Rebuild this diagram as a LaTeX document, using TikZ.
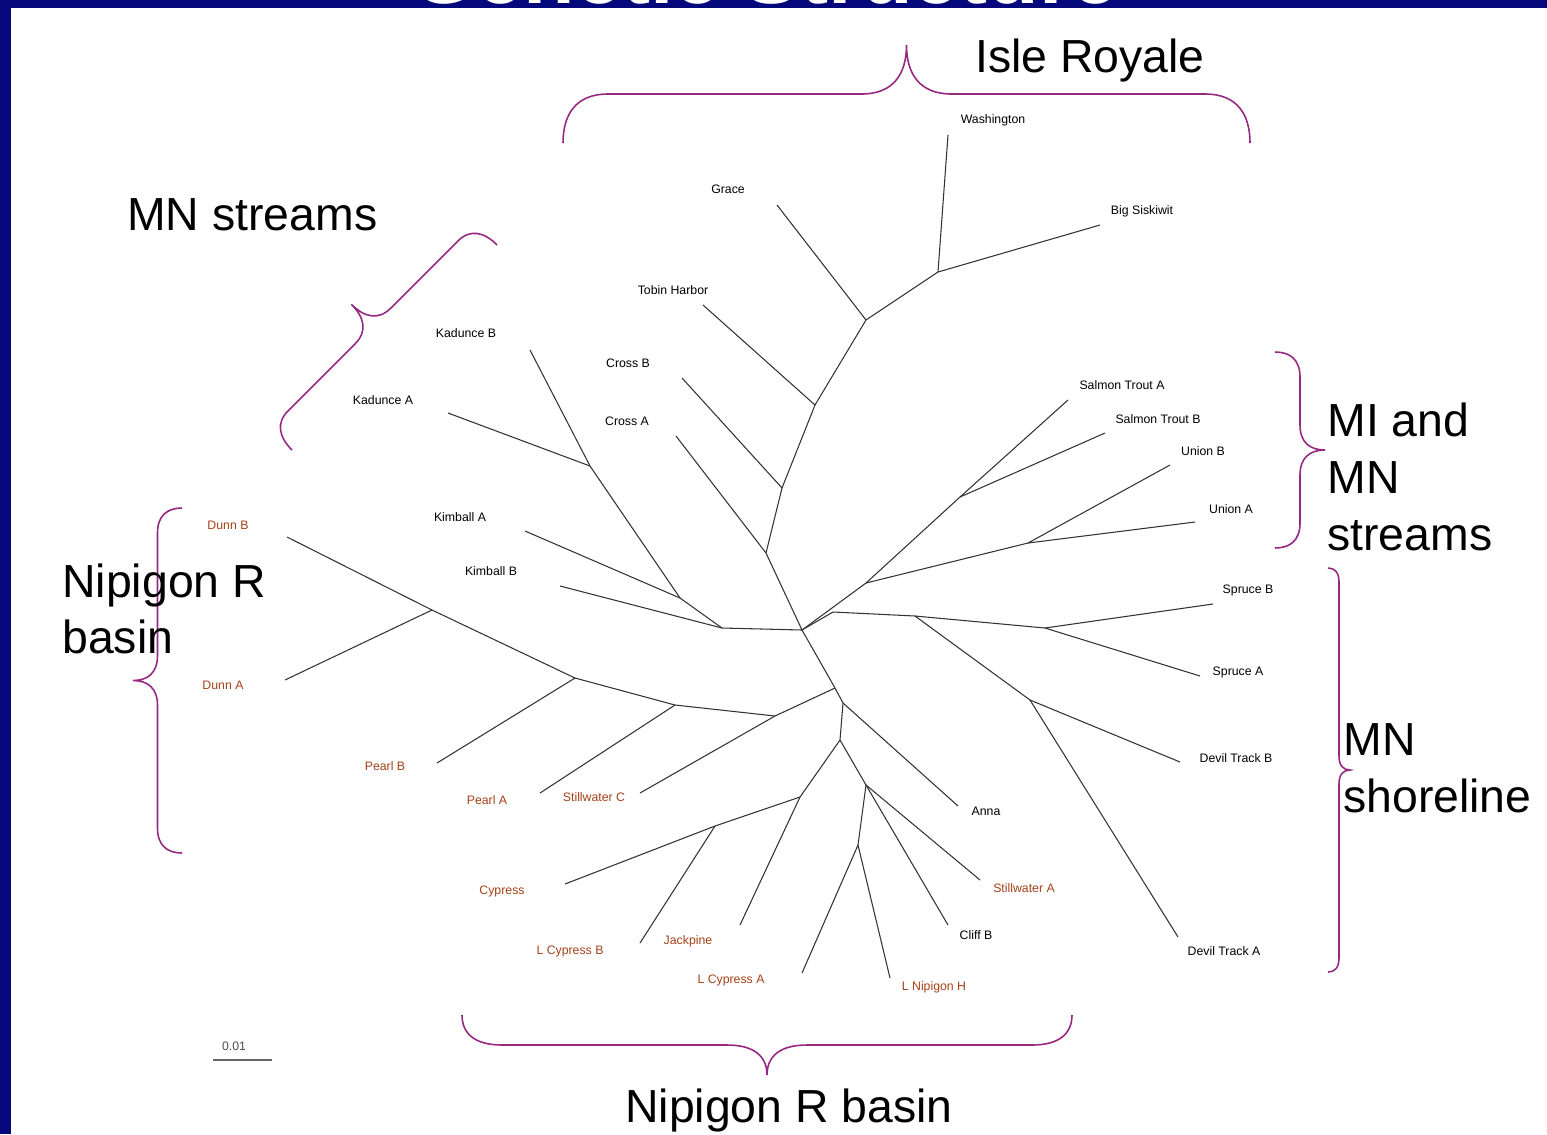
\documentclass[tikz,border=0pt]{standalone}
\usepackage{fontspec}
\setmainfont{Liberation Sans}
\definecolor{navy}{RGB}{4,8,122}
\definecolor{brownlab}{RGB}{165,65,25}
\definecolor{bracecol}{RGB}{150,40,130}
\tikzset{
  pics/cbrace/.style n args={3}{code={%
    \draw[draw=bracecol, line width=0.9pt]
      (0,0) .. controls (0,{-0.3*#2}) and ({0.3*#3},{-0.5*#2}) .. (#3,{-0.5*#2})
      -- ({0.5*#1-#3},{-0.5*#2})
      .. controls ({0.5*#1-0.3*#3},{-0.5*#2}) and ({0.5*#1},{-0.7*#2}) .. ({0.5*#1},{-#2})
      .. controls ({0.5*#1},{-0.7*#2}) and ({0.5*#1+0.3*#3},{-0.5*#2}) .. ({0.5*#1+#3},{-0.5*#2})
      -- ({#1-#3},{-0.5*#2})
      .. controls ({#1-0.3*#3},{-0.5*#2}) and (#1,{-0.3*#2}) .. (#1,0);
  }}
}
\begin{document}
\begin{tikzpicture}[x={(0.02cm,0)}, y={(0,-0.02cm)},
  edge/.style={black!80, line width=0.6pt},
  lab/.style={font=\fontsize{7}{8}\selectfont, inner sep=0pt},
  blab/.style={lab, text=brownlab},
  big/.style={font=\fontsize{26.4}{32.3}\selectfont, inner sep=0pt, align=left}]
\path[use as bounding box, fill=white] (0,0) rectangle (1547,1134);
\fill[navy] (0,0) rectangle (11,1134);
\fill[navy] (0,0) rectangle (1547,8);
\begin{scope}
\clip (0,0) rectangle (1547,8);
\node[white, font=\bfseries\fontsize{48}{50}\selectfont, anchor=base, inner sep=0pt] (title) at (765,3) {Genetic Structure};
\end{scope}

% braces
\pic at (563,143) {cbrace={687}{98}{45}};
\pic[rotate=180] at (1072,1015) {cbrace={610}{60}{40}};
\pic[rotate=-90] at (1275,352) {cbrace={196}{50}{25}};
\pic[rotate=-90] at (1328,568) {cbrace={404}{22}{14}};
\pic[rotate=90] at (182,853) {cbrace={345}{49}{25}};
\pic[rotate=45] at (292,450) {cbrace={290}{61}{25}};

% big labels
\node[big, anchor=base west] (tisle) at (975,72) {Isle Royale};
\node[big, anchor=base west] (tmn) at (127,230) {MN streams};
\node[big, anchor=west] (tmi) at (1327,477) {MI and\\MN\\streams};
\node[big, anchor=west] (tnipl) at (62,609) {Nipigon R\\basin};
\node[big, anchor=west] (tshore) at (1343,768) {MN\\shoreline};
\node[big, anchor=base] (tnipb) at (789,1122) {Nipigon R basin};

% leaf labels
\node[lab] (lwash) at (993,120) {Washington};
\node[lab] (lbigs) at (1142,211) {Big Siskiwit};
\node[lab] (lgrace) at (728,189) {Grace};
\node[lab] (ltobin) at (673,290) {Tobin Harbor};
\node[lab] (lcrossB) at (628,363) {Cross B};
\node[lab] (lcrossA) at (627,421) {Cross A};
\node[lab] (lkadB) at (466,333) {Kadunce B};
\node[lab] (lkadA) at (383,400) {Kadunce A};
\node[lab] (lkimA) at (460,517) {Kimball A};
\node[lab] (lkimB) at (491,571) {Kimball B};
\node[blab] (ldunnB) at (228,525) {Dunn B};
\node[blab] (ldunnA) at (223,685) {Dunn A};
\node[blab] (lpearlB) at (385,766) {Pearl B};
\node[blab] (lpearlA) at (487,800) {Pearl A};
\node[blab] (lstillC) at (594,797) {Stillwater C};
\node[blab] (lcyp) at (502,891) {Cypress};
\node[blab] (llcypB) at (570,951) {L Cypress B};
\node[blab] (ljack) at (688,941) {Jackpine};
\node[blab] (llcypA) at (731,980) {L Cypress A};
\node[blab] (llnip) at (934,987) {L Nipigon H};
\node[lab] (lcliff) at (976,935) {Cliff B};
\node[blab] (lstillA) at (1024,888) {Stillwater A};
\node[lab] (lanna) at (986,811) {Anna};
\node[lab] (ldtA) at (1224,951) {Devil Track A};
\node[lab] (ldtB) at (1236,758) {Devil Track B};
\node[lab] (lspA) at (1238,672) {Spruce A};
\node[lab] (lspB) at (1248,590) {Spruce B};
\node[lab] (lunA) at (1231,509) {Union A};
\node[lab] (lunB) at (1203,451) {Union B};
\node[lab] (lstB) at (1158,419) {Salmon Trout B};
\node[lab] (lstA) at (1122,385) {Salmon Trout A};

% leaf ends
\coordinate (wash) at (948,135);
\coordinate (bigs) at (1100,225);
\coordinate (grace) at (777,205);
\coordinate (tobin) at (703,305);
\coordinate (crossB) at (682,378);
\coordinate (crossA) at (676,436);
\coordinate (kadB) at (530,350);
\coordinate (kadA) at (448,413);
\coordinate (kimA) at (525,531);
\coordinate (kimB) at (560,586);
\coordinate (dunnB) at (287,537);
\coordinate (dunnA) at (285,680);
\coordinate (pearlB) at (437,763);
\coordinate (pearlA) at (540,793);
\coordinate (stillC) at (640,793);
\coordinate (cyp) at (565,884);
\coordinate (lcypB) at (640,943);
\coordinate (jack) at (740,925);
\coordinate (lcypA) at (802,973);
\coordinate (lnip) at (890,978);
\coordinate (cliff) at (948,925);
\coordinate (stillA) at (980,880);
\coordinate (anna) at (958,806);
\coordinate (dtA) at (1178,937);
\coordinate (dtB) at (1180,762);
\coordinate (spA) at (1200,676);
\coordinate (spB) at (1213,604);
\coordinate (unA) at (1195,522);
\coordinate (unB) at (1170,465);
\coordinate (stB) at (1105,433);
\coordinate (stA) at (1068,400);

% internal nodes
\coordinate (nir) at (938,272);
\coordinate (n1) at (866,320);
\coordinate (n2) at (815,405);
\coordinate (n3) at (782,488);
\coordinate (n4) at (766,553);
\coordinate (hub) at (802,630);
\coordinate (nmi) at (866,583);
\coordinate (nst) at (960,497);
\coordinate (nun) at (1028,543);
\coordinate (nsh) at (833,612);
\coordinate (nsh2) at (915,616);
\coordinate (nsp) at (1045,628);
\coordinate (ndt) at (1030,700);
\coordinate (nkad) at (590,466);
\coordinate (nk2) at (680,598);
\coordinate (nk3) at (722,628);
\coordinate (nc2) at (835,688);
\coordinate (nL) at (775,716);
\coordinate (npa) at (675,705);
\coordinate (np) at (575,678);
\coordinate (nd) at (432,610);
\coordinate (nB) at (843,703);
\coordinate (b1) at (840,740);
\coordinate (c1) at (800,797);
\coordinate (ncy) at (715,826);
\coordinate (b2) at (866,785);
\coordinate (b3) at (858,845);

% edges
\draw[edge] (wash) -- (nir);
\draw[edge] (bigs) -- (nir);
\draw[edge] (nir) -- (n1);
\draw[edge] (grace) -- (n1);
\draw[edge] (n1) -- (n2);
\draw[edge] (tobin) -- (n2);
\draw[edge] (n2) -- (n3);
\draw[edge] (crossB) -- (n3);
\draw[edge] (n3) -- (n4);
\draw[edge] (crossA) -- (n4);
\draw[edge] (n4) -- (hub);
\draw[edge] (hub) -- (nmi);
\draw[edge] (nmi) -- (nst);
\draw[edge] (stA) -- (nst);
\draw[edge] (stB) -- (nst);
\draw[edge] (nmi) -- (nun);
\draw[edge] (unA) -- (nun);
\draw[edge] (unB) -- (nun);
\draw[edge] (hub) -- (nsh);
\draw[edge] (nsh) -- (nsh2);
\draw[edge] (nsh2) -- (nsp);
\draw[edge] (spA) -- (nsp);
\draw[edge] (spB) -- (nsp);
\draw[edge] (nsh2) -- (ndt);
\draw[edge] (dtA) -- (ndt);
\draw[edge] (dtB) -- (ndt);
\draw[edge] (kadB) -- (nkad);
\draw[edge] (kadA) -- (nkad);
\draw[edge] (nkad) -- (nk2);
\draw[edge] (kimA) -- (nk2);
\draw[edge] (nk2) -- (nk3);
\draw[edge] (kimB) -- (nk3);
\draw[edge] (nk3) -- (hub);
\draw[edge] (hub) -- (nc2);
\draw[edge] (nc2) -- (nL);
\draw[edge] (stillC) -- (nL);
\draw[edge] (nL) -- (npa);
\draw[edge] (pearlA) -- (npa);
\draw[edge] (npa) -- (np);
\draw[edge] (pearlB) -- (np);
\draw[edge] (np) -- (nd);
\draw[edge] (dunnB) -- (nd);
\draw[edge] (dunnA) -- (nd);
\draw[edge] (nc2) -- (nB);
\draw[edge] (anna) -- (nB);
\draw[edge] (nB) -- (b1);
\draw[edge] (b1) -- (c1);
\draw[edge] (c1) -- (ncy);
\draw[edge] (cyp) -- (ncy);
\draw[edge] (lcypB) -- (ncy);
\draw[edge] (jack) -- (c1);
\draw[edge] (b1) -- (b2);
\draw[edge] (stillA) -- (b2);
\draw[edge] (cliff) -- (b2);
\draw[edge] (b2) -- (b3);
\draw[edge] (lcypA) -- (b3);
\draw[edge] (lnip) -- (b3);

% scale bar
\node[lab, text=black!70] (lscale) at (234,1046) {0.01};
\coordinate (sb1) at (213,1060);
\coordinate (sb2) at (272,1060);
\draw[black!60, line width=0.8pt] (sb1) -- (sb2);
\end{tikzpicture}
\end{document}
